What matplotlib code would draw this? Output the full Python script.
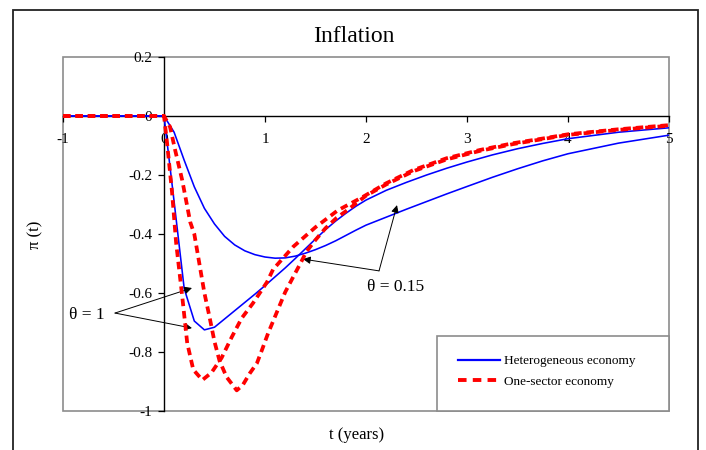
import matplotlib
matplotlib.use("Agg")
import matplotlib.pyplot as plt
from matplotlib.patches import Rectangle
from matplotlib.lines import Line2D

# ---------------- data ----------------
# Heterogeneous economy, theta = 1 (fast)
t_het_fast = [-1, 0, 0.1, 0.2, 0.3, 0.4, 0.5, 0.6, 0.7, 0.8, 0.9, 1.0, 1.1, 1.2,
              1.3, 1.4, 1.5, 1.6, 1.7, 1.8, 1.9, 2.0, 2.2, 2.4, 2.6, 2.8, 3.0, 3.25,
              3.5, 3.75, 4.0, 4.5, 5.0]
pi_het_fast = [0, 0, -0.29, -0.585, -0.695, -0.725, -0.716, -0.688, -0.66, -0.632,
               -0.604, -0.575, -0.545, -0.515, -0.483, -0.45, -0.417, -0.385,
               -0.356, -0.33, -0.306, -0.285, -0.252, -0.225, -0.2, -0.177,
               -0.156, -0.132, -0.111, -0.093, -0.077, -0.055, -0.04]

# Heterogeneous economy, theta = 0.15 (slow)
t_het_slow = [-1, 0, 0.1, 0.2, 0.3, 0.4, 0.5, 0.6, 0.7, 0.8, 0.9, 1.0, 1.1, 1.2,
              1.3, 1.4, 1.5, 1.6, 1.7, 1.8, 1.9, 2.0, 2.2, 2.4, 2.6, 2.8, 3.0, 3.25,
              3.5, 3.75, 4.0, 4.5, 5.0]
pi_het_slow = [0, 0, -0.055, -0.15, -0.24, -0.313, -0.366, -0.408, -0.437, -0.457,
               -0.47, -0.478, -0.482, -0.481, -0.475, -0.465, -0.453, -0.439,
               -0.423, -0.405, -0.387, -0.37, -0.343, -0.316, -0.29, -0.264,
               -0.239, -0.208, -0.179, -0.152, -0.128, -0.092, -0.065]

# One-sector economy, theta = 1 (fast)
t_one_fast = [-1, 0, 0.03, 0.08, 0.12, 0.18, 0.23, 0.29, 0.38, 0.47, 0.57, 0.67,
              0.77, 0.88, 1.02, 1.08, 1.28, 1.5, 1.72, 1.97, 2.2, 2.47, 2.8, 3.13,
              3.46, 3.72, 4.0, 4.5, 5.0]
pi_one_fast = [0, 0, -0.09, -0.26, -0.43, -0.61, -0.77, -0.86, -0.895, -0.87, -0.82,
               -0.75, -0.685, -0.635, -0.563, -0.52, -0.443, -0.377, -0.32, -0.274,
               -0.228, -0.183, -0.143, -0.115, -0.092, -0.078, -0.062, -0.045, -0.031]

# One-sector economy, theta = 0.15 (slow)
t_one_slow = [-1, 0, 0.06, 0.11, 0.18, 0.26, 0.3, 0.35, 0.4, 0.45, 0.5, 0.55, 0.62,
              0.72, 0.78, 0.85, 0.92, 0.97, 1.03, 1.2, 1.28, 1.35, 1.41, 1.5, 1.6,
              1.71, 1.82, 2.0, 2.2, 2.47, 2.8, 3.13, 3.46, 3.72, 4.0, 4.5, 5.0]
pi_one_slow = [0, 0, -0.037, -0.115, -0.217, -0.36, -0.40, -0.50, -0.60, -0.68,
               -0.765, -0.83, -0.885, -0.93, -0.912, -0.872, -0.838, -0.793, -0.737,
               -0.597, -0.545, -0.5, -0.46, -0.42, -0.38, -0.345, -0.318, -0.27,
               -0.232, -0.187, -0.147, -0.118, -0.095, -0.08, -0.064, -0.047, -0.033]

x_ticks = [-1, 0, 1, 2, 3, 4, 5]
x_ticklabels = ["-1", "0", "1", "2", "3", "4", "5"]
y_ticks = [-1, -0.8, -0.6, -0.4, -0.2, 0, 0.2]
y_ticklabels = ["-1", "-0.8", "-0.6", "-0.4", "-0.2", "0", "0.2"]

legend_labels = ["Heterogeneous economy", "One-sector economy"]
title_text = "Inflation"
xlabel_text = "t (years)"
ylabel_text = "\u03c0 (t)"
ann_fast = "\u03b8 = 1"
ann_slow = "\u03b8 = 0.15"

# ---------------- figure ----------------
plt.rcParams["font.family"] = ["Liberation Serif", "DejaVu Serif"]
W, H = 706, 450
fig = plt.figure(figsize=(W / 100, H / 100), dpi=100)
fig.patch.set_facecolor("white")

# outer frame of the chart (extends past the bottom edge)
fig.patches.append(Rectangle((13 / W, -0.1), (698 - 13) / W, 1 - 10 / H + 0.1,
                             transform=fig.transFigure, fill=False,
                             edgecolor="#222222", lw=1.3, clip_on=False))

ax_l, ax_r, ax_t, ax_b = 63, 669, 57, 411
ax = fig.add_axes([ax_l / W, 1 - ax_b / H, (ax_r - ax_l) / W, (ax_b - ax_t) / H])
ax.set_xlim(-1, 5)
ax.set_ylim(-1, 0.2)

blue = "#0000FF"
red = "#FF0000"
dash = (0, (2.0, 1.3))

ax.plot(t_het_fast, pi_het_fast, color=blue, lw=1.15, zorder=3)
ax.plot(t_het_slow, pi_het_slow, color=blue, lw=1.15, zorder=3)
ax.plot(t_one_fast, pi_one_fast, color=red, lw=2.7, ls=dash, zorder=4)
ax.plot(t_one_slow, pi_one_slow, color=red, lw=2.7, ls=dash, zorder=4)

# spines: zero-crossing axes in black, plot-area frame in gray
ax.spines["left"].set_position(("data", 0))
ax.spines["bottom"].set_position(("data", 0))
for s in ("left", "bottom"):
    ax.spines[s].set_color("black")
    ax.spines[s].set_linewidth(1.0)
    ax.spines[s].set_zorder(2)
for s in ("top", "right"):
    ax.spines[s].set_visible(False)
ax.add_patch(Rectangle((0, 0), 1, 1, transform=ax.transAxes, fill=False,
                       edgecolor="#8c8c8c", lw=1.2, clip_on=False, zorder=1))

ax.set_xticks(x_ticks)
ax.set_xticklabels(x_ticklabels)
ax.set_yticks(y_ticks)
ax.set_yticklabels(y_ticklabels)
ax.tick_params(axis="both", direction="out", length=4.3, width=0.9,
               colors="black", labelsize=11)
ax.tick_params(axis="x", pad=8)
ax.tick_params(axis="y", pad=4)

# title and axis labels
fig.text(354 / W, 1 - 36 / H, title_text, ha="center", va="center", fontsize=17)
fig.text(357 / W, 1 - 435 / H, xlabel_text, ha="center", va="center", fontsize=12)
fig.text(35 / W, 1 - 235 / H, ylabel_text, ha="center", va="center",
         rotation=90, fontsize=12)

# annotations
arrow_kw = dict(arrowstyle="-|>", color="black", lw=0.7, mutation_scale=11,
                shrinkA=0, shrinkB=0)
ax.annotate("", xy=(0.277, -0.583), xytext=(-0.485, -0.668), arrowprops=arrow_kw)
ax.annotate("", xy=(0.277, -0.719), xytext=(-0.485, -0.668), arrowprops=arrow_kw)
ax.text(-0.762, -0.675, ann_fast, ha="center", va="center", fontsize=12.5)

ax.annotate("", xy=(1.376, -0.485), xytext=(2.129, -0.525), arrowprops=arrow_kw)
ax.annotate("", xy=(2.307, -0.302), xytext=(2.129, -0.525), arrowprops=arrow_kw)
ax.text(2.297, -0.58, ann_slow, ha="center", va="center", fontsize=12.5)

# legend box and entries
box_l = (437 - ax_l) / (ax_r - ax_l)
box_h = (ax_b - 336) / (ax_b - ax_t)
ax.add_patch(Rectangle((box_l, 0), 1 - box_l, box_h, transform=ax.transAxes,
                       facecolor="white", edgecolor="#8c8c8c", lw=1.2,
                       clip_on=False, zorder=5))
handles = [Line2D([], [], color=blue, lw=1.6),
           Line2D([], [], color=red, lw=2.8, ls=(0, (2.2, 1.6)))]
leg = ax.legend(handles, legend_labels, loc="upper left",
                bbox_to_anchor=((458 - ax_l) / (ax_r - ax_l), (ax_b - 355) / (ax_b - ax_t)),
                frameon=False, borderpad=0, borderaxespad=0, handlelength=3.2,
                handletextpad=0.25, labelspacing=0.65, fontsize=9.5)
leg.set_zorder(6)

fig.savefig("out.png", dpi=100, facecolor="white")
